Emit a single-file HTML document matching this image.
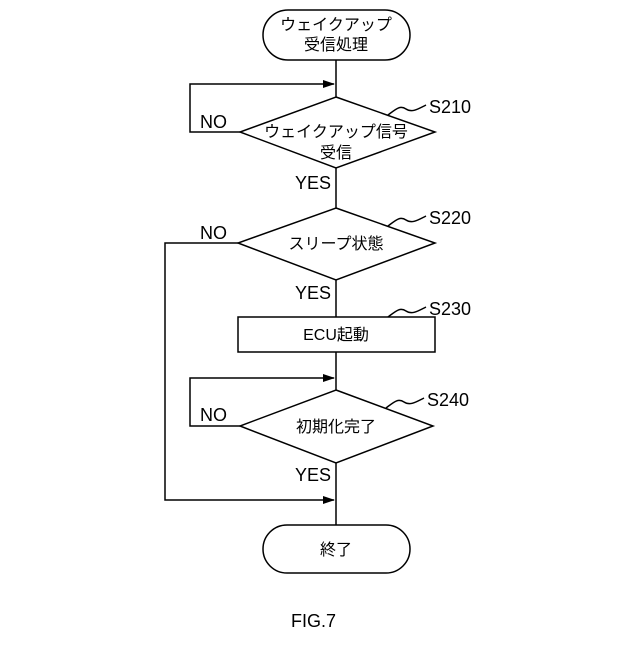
<!DOCTYPE html>
<html><head><style>body{margin:0;background:#fff}</style></head><body>
<svg width="640" height="640" viewBox="0 0 640 640" xmlns="http://www.w3.org/2000/svg" font-family="Liberation Sans, Noto Sans CJK JP, sans-serif">
<defs><marker id="a" markerWidth="12" markerHeight="8" refX="11" refY="4" orient="auto" markerUnits="userSpaceOnUse"><path d="M0,0 L12,4 L0,8z" fill="#000"/></marker></defs>
<g fill="none" stroke="#000" stroke-width="1.5">
<rect x="263" y="10" width="147" height="50" rx="25"/>
<line x1="336" y1="60" x2="336" y2="97"/>
<polyline points="240,132 190,132 190,84 334,84" marker-end="url(#a)"/>
<polygon points="336,97 435,132 336,168 240,132"/>
<line x1="336" y1="168" x2="336" y2="208"/>
<polygon points="336,208 435,243 336,280 238,243"/>
<line x1="336" y1="280" x2="336" y2="317"/>
<rect x="238" y="317" width="197" height="35"/>
<line x1="336" y1="352" x2="336" y2="390"/>
<polyline points="240,426 190,426 190,378 334,378" marker-end="url(#a)"/>
<polygon points="336,390 433,426 336,463 240,426"/>
<line x1="336" y1="463" x2="336" y2="525"/>
<polyline points="238,243 165,243 165,500 334,500" marker-end="url(#a)"/>
<rect x="263" y="525" width="147" height="48" rx="24"/>
<path d="M388,115 c8,-6 12,-10 18,-6 c6,4 12,0 20,-4"/>
<path d="M388,226 c8,-6 12,-10 18,-6 c6,4 12,0 20,-4"/>
<path d="M388,317 c8,-6 12,-10 18,-6 c6,4 12,0 20,-4"/>
<path d="M386,408 c8,-6 12,-10 18,-6 c6,4 12,0 20,-4"/>
</g>
<g font-size="16" fill="#000" text-anchor="middle">
<text x="336" y="30">ウェイクアップ</text>
<text x="336" y="50">受信処理</text>
<text x="336" y="137">ウェイクアップ信号</text>
<text x="336" y="158">受信</text>
<text x="336" y="249">スリープ状態</text>
<text x="336" y="340">ECU起動</text>
<text x="336" y="432">初期化完了</text>
<text x="336" y="555">終了</text>
</g>
<g font-size="18" fill="#000">
<text x="200" y="128">NO</text>
<text x="295" y="189">YES</text>
<text x="200" y="239">NO</text>
<text x="295" y="299">YES</text>
<text x="200" y="421">NO</text>
<text x="295" y="481">YES</text>
<text x="429" y="113">S210</text>
<text x="429" y="224">S220</text>
<text x="429" y="315">S230</text>
<text x="427" y="406">S240</text>
<text x="291" y="627">FIG.7</text>
</g>
</svg>
</body></html>
